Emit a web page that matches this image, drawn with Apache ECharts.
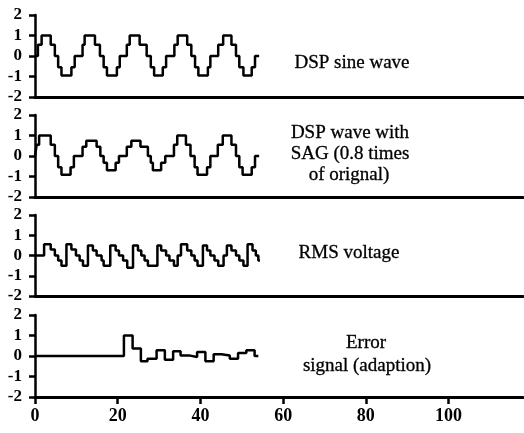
<!DOCTYPE html>
<html>
<head>
<meta charset="utf-8">
<script src="https://cdn.jsdelivr.net/npm/echarts@6/dist/echarts.min.js"></script>
<style>
  html, body { margin: 0; padding: 0; background: #fff; }
  #chart { width: 524px; height: 433px; }
</style>
</head>
<body>
<div id="chart"></div>
<script>
// step breakpoints: level holds from x[i] until x[i+1]
const xTicks = [0, 20, 40, 60, 80, 100];
const yTicks = [-2, -1, 0, 1, 2];

const sineX = [0, 0.7, 1.6, 3.8, 4.8, 5.6, 6.4, 8.8, 9.6, 11.5, 12.0, 14.5, 15.7, 16.6, 17.4, 19.8, 20.5, 22.2, 22.9, 25.3, 27.0, 28.0, 28.8, 30.9, 31.7, 33.7, 34.5, 36.8, 37.8, 38.7, 39.5, 41.8, 42.4, 44.3, 45.5, 47.5, 48.6, 49.4, 50.4, 52.4, 53.2, 54.2];
const sineY = [0, 0.55, 1, 0.55, 0, -0.55, -0.95, -0.55, 0, 0.55, 1, 0.55, 0, -0.55, -0.95, -0.55, 0, 0.55, 1, 0.55, 0, -0.55, -0.95, -0.55, 0, 0.55, 1, 0.55, 0, -0.55, -0.95, -0.55, 0, 0.55, 1, 0.55, 0, -0.55, -0.95, -0.55, 0, 0];

const sagX = [0, 0.4, 1.0, 3.8, 4.8, 5.6, 6.4, 8.6, 9.4, 11.5, 12.4, 14.9, 15.8, 16.6, 17.4, 19.5, 20.3, 22.2, 23.3, 25.5, 27.3, 28.0, 28.5, 30.5, 31.5, 33.6, 34.4, 36.5, 37.6, 38.6, 39.3, 41.6, 42.4, 44.2, 45.4, 47.5, 48.6, 49.4, 50.2, 52.4, 53.2, 54.2];
const sagY = [0, 0.55, 1, 0.55, 0, -0.55, -0.92, -0.55, 0, 0.45, 0.75, 0.45, 0, -0.33, -0.7, -0.33, 0, 0.45, 0.75, 0.45, 0, -0.33, -0.7, -0.33, 0, 0.55, 1, 0.55, 0, -0.55, -0.92, -0.55, 0, 0.55, 1, 0.55, 0, -0.55, -0.92, -0.55, 0, 0];

const rmsX = [0, 2.2, 3.8, 4.8, 5.6, 6.4, 7.6, 8.8, 9.9, 10.8, 11.6, 12.8, 14.0, 14.9, 16.1, 16.6, 18.2, 19.5, 20.3, 21.3, 22.3, 23.7, 24.9, 25.7, 26.5, 27.3, 29.6, 30.5, 31.7, 32.5, 33.6, 34.5, 35.3, 36.8, 37.8, 38.6, 39.3, 40.6, 41.6, 42.4, 43.4, 44.3, 45.6, 46.4, 47.5, 48.6, 49.4, 50.4, 51.4, 52.6, 53.4, 54.0, 54.4];
const rmsY = [0, 0.55, 0.3, 0, -0.25, -0.5, 0.55, 0.3, 0, -0.25, -0.5, 0.5, 0.25, 0, -0.25, -0.5, 0.5, 0.25, 0, -0.25, -0.6, 0.5, 0.25, 0, -0.25, -0.5, 0.5, 0.25, 0, -0.25, -0.5, 0, 0.55, 0.25, 0, -0.25, -0.5, 0.5, 0.25, 0, -0.25, -0.5, 0, 0.5, 0.25, 0, -0.25, -0.5, 0.55, 0.25, 0, -0.25, -0.25];

const errX = [0, 21.5, 23.6, 25.6, 27.2, 29.4, 31.4, 33.4, 35.2, 37.2, 39.2, 41.2, 43.2, 45.1, 47.1, 49.1, 51.1, 53.1, 54.0];
const errY = [0, 1, 0.36, -0.26, -0.13, 0.28, -0.18, 0.23, 0.03, -0.05, 0.2, -0.26, 0.08, 0.02, -0.13, 0.15, 0.28, 0, 0];

const panels = [
    { xs: sineX, ys: sineY, top: 15, height: 82 },
    { xs: sagX, ys: sagY, top: 115, height: 82 },
    { xs: rmsX, ys: rmsY, top: 215, height: 81 },
    { xs: errX, ys: errY, top: 315, height: 82 }
];

const serif = '"Liberation Serif", "Times New Roman", serif';

function zip(xs, ys) {
    return xs.map(function (x, i) { return [x, ys[i]]; });
}

const chart = echarts.init(document.getElementById('chart'));

const grids = [], xAxes = [], yAxes = [], series = [];
panels.forEach(function (p, i) {
    const last = i === panels.length - 1;
    grids.push({ left: 35, right: 1, top: p.top, height: p.height });
    xAxes.push({
        type: 'value', gridIndex: i, min: 0, max: 118,
        splitLine: { show: false },
        axisLine: { show: true, onZero: false, lineStyle: { color: '#000', width: 3 } },
        axisTick: { show: last, length: 7, lineStyle: { color: '#000', width: 2.5 }, customValues: xTicks },
        axisLabel: {
            show: last, customValues: xTicks, margin: 10, color: '#000',
            fontFamily: serif, fontWeight: 'bold', fontSize: 18
        }
    });
    yAxes.push({
        type: 'value', gridIndex: i, min: -2, max: 2, interval: 1,
        splitLine: { show: false },
        axisLine: { show: true, onZero: false, lineStyle: { color: '#000', width: 2.5 } },
        axisTick: { show: true, length: 6, lineStyle: { color: '#000', width: 2.5 } },
        axisLabel: {
            margin: 13, color: '#000',
            fontFamily: serif, fontWeight: 'bold', fontSize: 17
        }
    });
    series.push({
        type: 'line', xAxisIndex: i, yAxisIndex: i,
        step: 'end', showSymbol: false,
        lineStyle: { color: '#000', width: 2.5 },
        data: zip(p.xs, p.ys)
    });
});

function label(text, x, y) {
    return {
        type: 'text', x: x, y: y,
        style: {
            text: text, fill: '#000', align: 'center', verticalAlign: 'middle',
            font: '19px ' + serif, stroke: '#000', lineWidth: 0.3
        }
    };
}

chart.setOption({
    animation: false,
    backgroundColor: '#fff',
    grid: grids,
    xAxis: xAxes,
    yAxis: yAxes,
    series: series,
    graphic: [
        label('DSP sine wave', 352, 63),
        label('DSP wave with', 350, 133),
        label('SAG (0.8 times', 350, 154),
        label('of orignal)', 349, 175),
        label('RMS voltage', 349, 253),
        label('Error', 366, 343),
        label('signal (adaption)', 367, 366)
    ]
});
</script>
</body>
</html>
